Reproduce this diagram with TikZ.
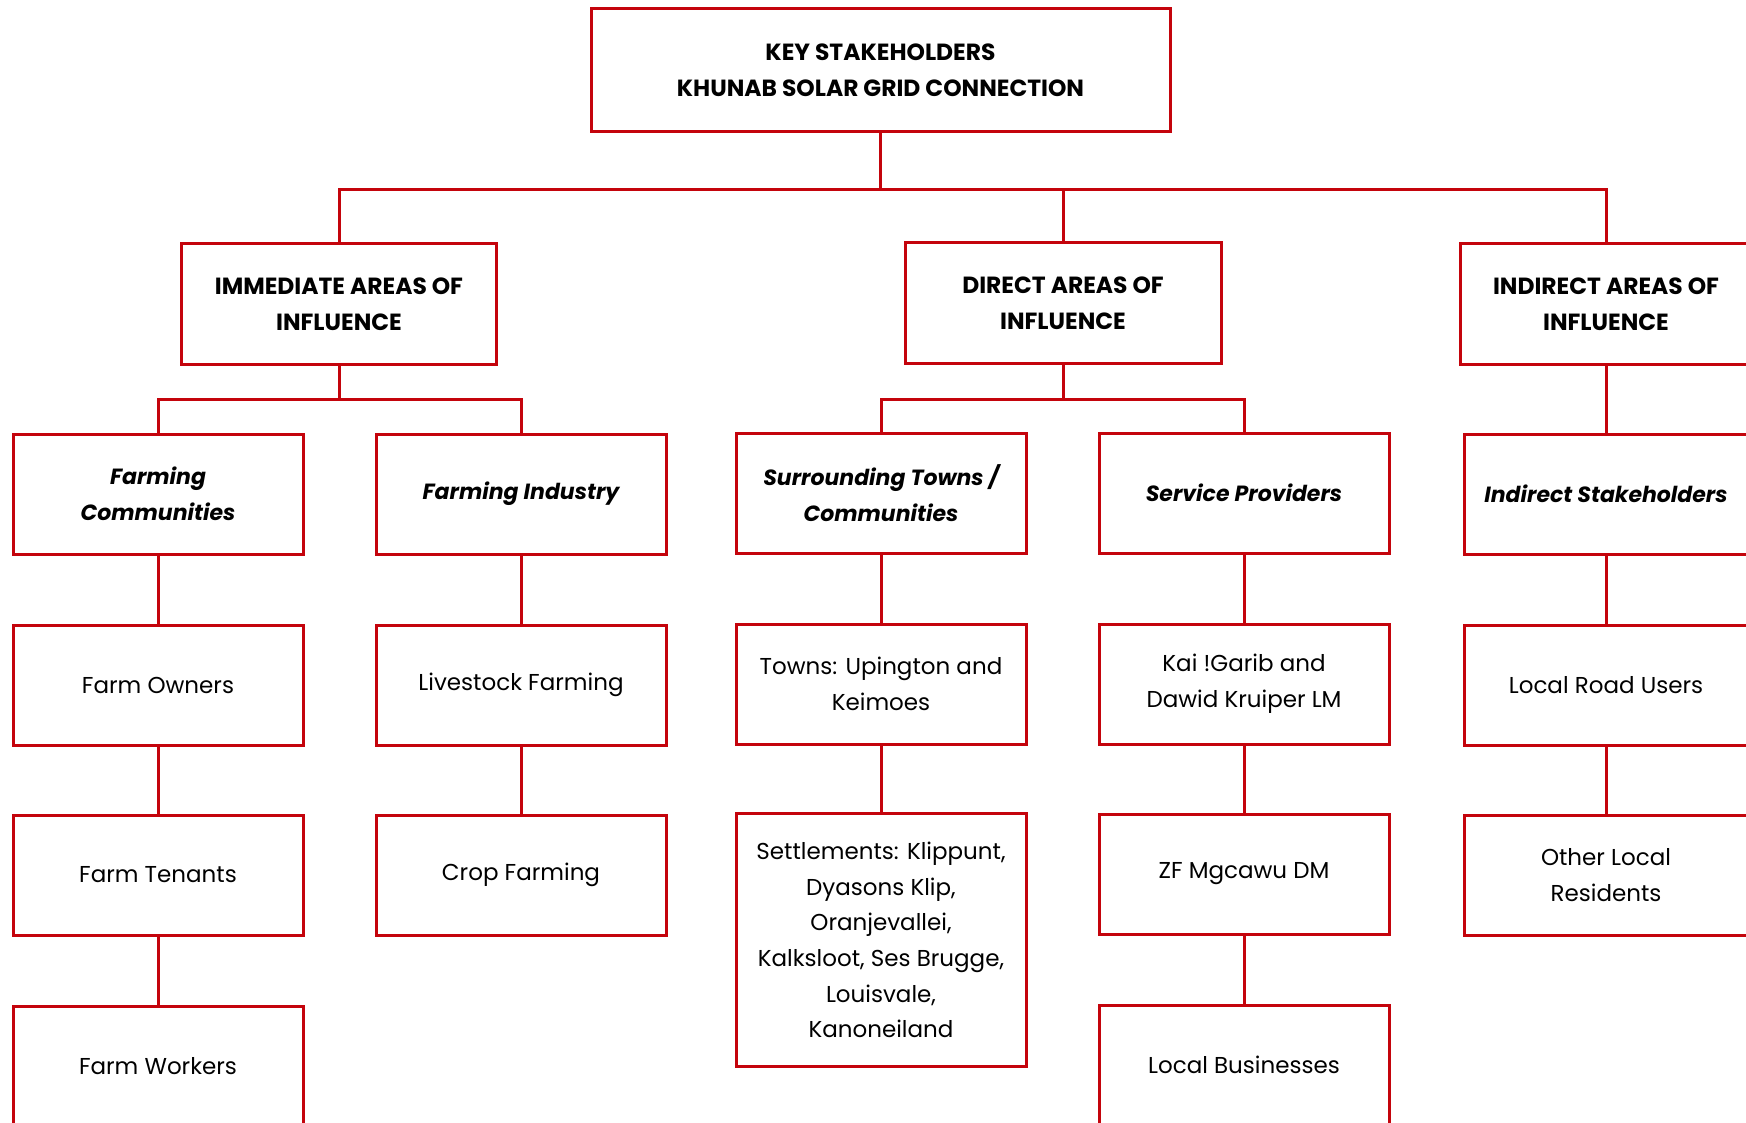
\documentclass[tikz,border=0pt]{standalone}
\usepackage{fontspec}
\setmainfont{Poppins}
\definecolor{boxred}{RGB}{196,4,12}
\begin{document}
\begin{tikzpicture}[x=1pt,y=-1pt,
        box/.style={draw=boxred,line width=3pt,rectangle,align=center,minimum width=290pt,minimum height=120pt,inner sep=0pt,font=\fontsize{23}{35.6}\selectfont},
        areabox/.style={box,font=\fontsize{23.4}{35.6}\selectfont\bfseries},
        groupbox/.style={box,font=\fontsize{22}{35.6}\selectfont\bfseries\itshape},
        link/.style={draw=boxred,line width=3pt}]
        \useasboundingbox (0,0) rectangle (1746,1123);
        \clip (0,0) rectangle (1746,1123);
        % top and areas
        \node[areabox,minimum width=579pt,minimum height=123pt] (top) at (880.5,70.5) {KEY STAKEHOLDERS\\KHUNAB SOLAR GRID CONNECTION};
        \node[areabox,minimum width=315pt] (imm) at (339,304) {IMMEDIATE AREAS OF\\INFLUENCE};
        \node[areabox,minimum width=316pt] (dir) at (1063,303) {DIRECT AREAS OF\\INFLUENCE};
        \node[areabox,minimum width=292pt] (ind) at (1606,304) {INDIRECT AREAS OF\\INFLUENCE};
        % groups
        \node[groupbox] (farmcom) at (158,494) {Farming\\Communities};
        \node[groupbox] (farmind) at (521,494) {Farming Industry};
        \node[groupbox] (towns) at (881,493) {Surrounding Towns /\\Communities};
        \node[groupbox] (service) at (1244,493) {Service Providers};
        \node[groupbox,minimum width=284pt] (indstake) at (1606,494) {Indirect Stakeholders};
        % stakeholders
        \node[box] (owners) at (158,685) {Farm Owners};
        \node[box] (livestock) at (521,685) {Livestock Farming};
        \node[box] (upington) at (881,684) {Towns: Upington and\\Keimoes};
        \node[box] (kai) at (1244,684) {Kai !Garib and\\Dawid Kruiper LM};
        \node[box,minimum width=284pt] (roadusers) at (1606,685) {Local Road Users};
        \node[box] (tenants) at (158,875) {Farm Tenants};
        \node[box] (crop) at (521,875) {Crop Farming};
        \node[box,minimum height=253pt] (settle) at (881,940) {Settlements: Klippunt,\\Dyasons Klip,\\Oranjevallei,\\Kalksloot, Ses Brugge,\\Louisvale,\\Kanoneiland};
        \node[box] (zf) at (1244,874) {ZF Mgcawu DM};
        \node[box,minimum width=284pt] (otherres) at (1606,875) {Other Local\\Residents};
        \node[box] (workers) at (158,1066) {Farm Workers};
        \node[box] (business) at (1244,1065) {Local Businesses};
        % connectors
        \draw[link] (top.south) -- ++(0,56) coordinate (topbus);
        \draw[link] (imm.north) |- (topbus) -| (ind.north);
        \draw[link] (topbus) -| (dir.north);
        \draw[link] (imm.south) -- ++(0,34) coordinate (immbus);
        \draw[link] (farmcom.north) |- (immbus) -| (farmind.north);
        \draw[link] (dir.south) -- ++(0,35) coordinate (dirbus);
        \draw[link] (towns.north) |- (dirbus) -| (service.north);
        \foreach \a/\b in {ind/indstake,farmcom/owners,owners/tenants,tenants/workers,farmind/livestock,livestock/crop,
                towns/upington,upington/settle,service/kai,kai/zf,zf/business,indstake/roadusers,roadusers/otherres}
            \draw[link] (\a.south) -- (\b.north);
\end{tikzpicture}
\end{document}
